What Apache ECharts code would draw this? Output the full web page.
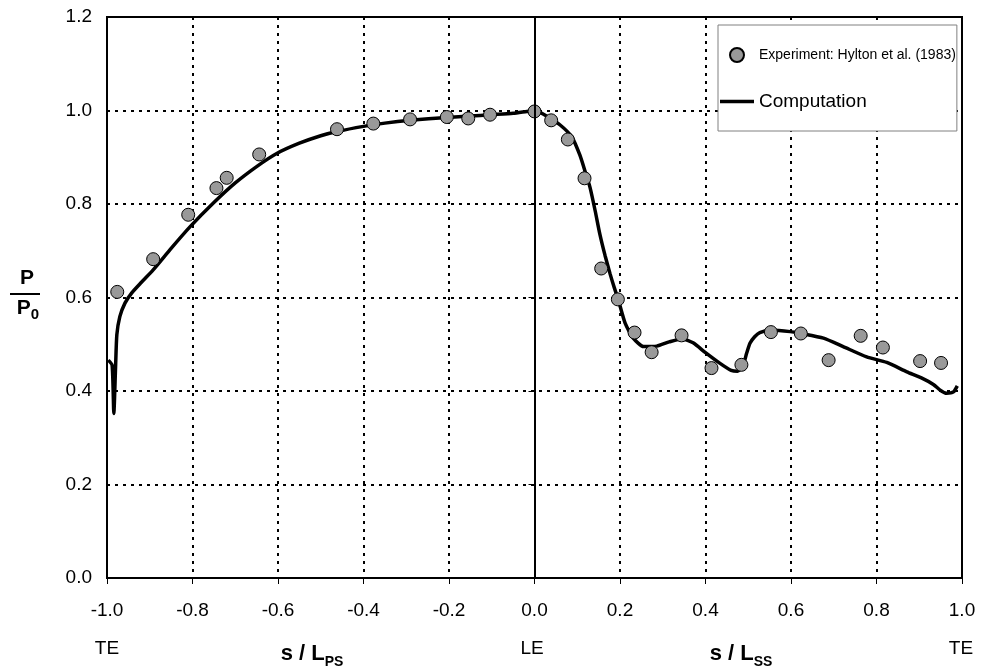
<!DOCTYPE html>
<html>
<head>
<meta charset="utf-8">
<title>P / P0</title>
<script src="https://cdn.jsdelivr.net/npm/echarts@6/dist/echarts.min.js"></script>
<style>
	html, body { margin: 0; padding: 0; background: #fff; }
	#tuxing { width: 981px; height: 671px; }
</style>
</head>
<body>
<div id="tuxing"></div>
<script>
// measured points (Hylton et al. 1983)
var expX = [-0.976, -0.892, -0.810, -0.744, -0.720, -0.644, -0.462, -0.377, -0.291, -0.205,
	-0.155, -0.104, 0.000, 0.039, 0.078, 0.117, 0.156, 0.195, 0.234, 0.274,
	0.344, 0.414, 0.484, 0.553, 0.623, 0.688, 0.763, 0.815, 0.902, 0.951];
var expY = [0.612, 0.682, 0.777, 0.834, 0.856, 0.906, 0.960, 0.972, 0.981, 0.986,
	0.983, 0.991, 0.998, 0.979, 0.938, 0.855, 0.662, 0.596, 0.525, 0.483,
	0.519, 0.449, 0.456, 0.526, 0.523, 0.466, 0.518, 0.493, 0.464, 0.460];

// computed curve
var compX = [-0.997, -0.988, -0.984, -0.980, -0.977, -0.970, -0.958, -0.942, -0.920, -0.892,
	-0.850, -0.806, -0.750, -0.700, -0.650, -0.603, -0.550, -0.500, -0.462, -0.400,
	-0.350, -0.291, -0.205, -0.150, -0.104, -0.050, -0.018, 0.000, 0.015, 0.030,
	0.060, 0.087, 0.106, 0.120, 0.130, 0.142, 0.153, 0.165, 0.177, 0.187,
	0.196, 0.212, 0.231, 0.255, 0.286, 0.315, 0.345, 0.371, 0.400, 0.434,
	0.460, 0.475, 0.488, 0.496, 0.504, 0.515, 0.527, 0.553, 0.598, 0.623,
	0.676, 0.722, 0.777, 0.824, 0.871, 0.905, 0.933, 0.950, 0.964, 0.980, 0.989];
var compY = [0.466, 0.455, 0.352, 0.450, 0.520, 0.559, 0.588, 0.610, 0.632, 0.659,
	0.705, 0.751, 0.803, 0.845, 0.880, 0.908, 0.930, 0.946, 0.955, 0.966,
	0.973, 0.979, 0.985, 0.988, 0.991, 0.994, 0.998, 1.000, 0.995, 0.987,
	0.969, 0.944, 0.905, 0.865, 0.835, 0.785, 0.735, 0.690, 0.650, 0.620,
	0.595, 0.545, 0.513, 0.495, 0.496, 0.505, 0.512, 0.503, 0.482, 0.459,
	0.444, 0.442, 0.455, 0.480, 0.502, 0.516, 0.525, 0.530, 0.527, 0.523,
	0.513, 0.495, 0.473, 0.461, 0.441, 0.428, 0.414, 0.401, 0.395, 0.398, 0.411];

var xTicks = { min: -1, max: 1, step: 0.2 };
var yTicks = { min: 0, max: 1.2, step: 0.2 };

var font = "'Liberation Sans', Arial, sans-serif";

var myChart = echarts.init(document.getElementById('tuxing'));

var expData = expX.map(function(x, i) { return [x, expY[i]]; });
var compData = compX.map(function(x, i) { return [x, compY[i]]; });

var gridLine = { show: true, lineStyle: { color: '#000', width: 2, type: [3, 5] } };

option = {
	animation: false,
	backgroundColor: '#fff',
	grid: {
		left: 107, right: 19, top: 17, bottom: 93,
		show: true, borderColor: '#000', borderWidth: 2
	},
	xAxis: {
		type: 'value',
		min: xTicks.min, max: xTicks.max, interval: xTicks.step,
		axisLine: { show: true, onZero: false, lineStyle: { color: '#000', width: 2 } },
		axisTick: { show: true, length: 6, lineStyle: { color: '#000' } },
		axisLabel: {
			margin: 23, color: '#000', fontSize: 19, fontFamily: font,
			formatter: function(v) { return (Math.abs(v) < 1e-9 ? 0 : v).toFixed(1); }
		},
		splitLine: gridLine
	},
	yAxis: {
		type: 'value',
		min: yTicks.min, max: yTicks.max, interval: yTicks.step,
		axisLine: { show: true, lineStyle: { color: '#000', width: 2 } },
		axisTick: { show: true, length: 6, lineStyle: { color: '#000' } },
		axisLabel: {
			margin: 15, color: '#000', fontSize: 19, fontFamily: font,
			formatter: function(v) { return v.toFixed(1); }
		},
		splitLine: gridLine
	},
	legend: {
		orient: 'vertical',
		left: 718, top: 25,
		backgroundColor: '#fff',
		borderColor: '#808080', borderWidth: 1,
		padding: [22, 1, 20, 2],
		itemGap: 29,
		itemWidth: 34, itemHeight: 14,
		textStyle: { color: '#000', fontFamily: font },
		data: [
			{ name: 'Experiment: Hylton et al. (1983)', icon: 'circle', textStyle: { fontSize: 14 } },
			{ name: 'Computation', icon: 'path://M0,0L34,0L34,3.5L0,3.5Z', textStyle: { fontSize: 19 } }
		]
	},
	series: [{
		name: 'Computation',
		type: 'line',
		data: compData,
		showSymbol: false,
		symbol: 'none',
		smooth: 0.2,
		lineStyle: { color: '#000', width: 3.5 },
		itemStyle: { color: '#000' },
		z: 3,
		markLine: {
			silent: true,
			symbol: ['none', 'none'],
			label: { show: false },
			lineStyle: { color: '#000', width: 2, type: 'solid' },
			data: [{ xAxis: 0 }]
		}
	}, {
		name: 'Experiment: Hylton et al. (1983)',
		type: 'scatter',
		data: expData,
		symbolSize: 13,
		itemStyle: { color: '#999999', borderColor: '#000', borderWidth: 1, opacity: 1 },
		z: 4
	}],
	graphic: [
		// y 轴标题 P / P0
		{ type: 'text', x: 27, y: 278, style: { text: 'P', fill: '#000', font: 'bold 21px ' + font, textAlign: 'center', textVerticalAlign: 'middle' } },
		{ type: 'line', shape: { x1: 10, y1: 294, x2: 40, y2: 294 }, style: { stroke: '#000', lineWidth: 2 } },
		{ type: 'text', x: 28, y: 308, style: {
			text: '{a|P}{b|0}', textAlign: 'center', textVerticalAlign: 'middle',
			rich: {
				a: { fontSize: 21, fontWeight: 'bold', fontFamily: font, fill: '#000', lineHeight: 28, verticalAlign: 'middle' },
				b: { fontSize: 15, fontWeight: 'bold', fontFamily: font, fill: '#000', lineHeight: 15, verticalAlign: 'bottom' }
			}
		} },
		// TE / LE 标注
		{ type: 'text', x: 107, y: 649, style: { text: 'TE', fill: '#000', font: '19px ' + font, textAlign: 'center', textVerticalAlign: 'middle' } },
		{ type: 'text', x: 532, y: 649, style: { text: 'LE', fill: '#000', font: '19px ' + font, textAlign: 'center', textVerticalAlign: 'middle' } },
		{ type: 'text', x: 961, y: 649, style: { text: 'TE', fill: '#000', font: '19px ' + font, textAlign: 'center', textVerticalAlign: 'middle' } },
		// x 轴标题
		{ type: 'text', x: 312, y: 654, style: {
			text: '{a|s / L}{b|PS}', textAlign: 'center', textVerticalAlign: 'middle',
			rich: {
				a: { fontSize: 22, fontWeight: 'bold', fontFamily: font, fill: '#000', lineHeight: 30, verticalAlign: 'middle' },
				b: { fontSize: 14, fontWeight: 'bold', fontFamily: font, fill: '#000', lineHeight: 14, verticalAlign: 'bottom' }
			}
		} },
		{ type: 'text', x: 741, y: 654, style: {
			text: '{a|s / L}{b|SS}', textAlign: 'center', textVerticalAlign: 'middle',
			rich: {
				a: { fontSize: 22, fontWeight: 'bold', fontFamily: font, fill: '#000', lineHeight: 30, verticalAlign: 'middle' },
				b: { fontSize: 14, fontWeight: 'bold', fontFamily: font, fill: '#000', lineHeight: 14, verticalAlign: 'bottom' }
			}
		} }
	]
};
myChart.setOption(option);
</script>
</body>
</html>
